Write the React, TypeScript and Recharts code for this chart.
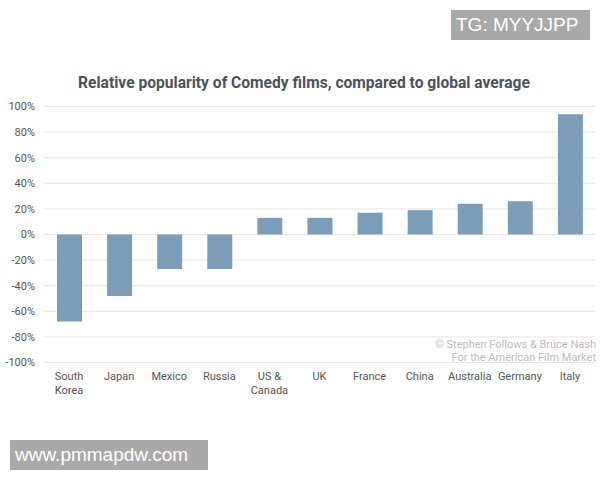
import { BarChart, Bar, XAxis, YAxis, CartesianGrid } from 'recharts'

const countries = ['South\nKorea', 'Japan', 'Mexico', 'Russia', 'US &\nCanada', 'UK', 'France', 'China', 'Australia', 'Germany', 'Italy']
const popularity = [-68, -48, -27, -27, 13, 13, 17, 19, 24, 26, 94]
const yTicks = [-100, -80, -60, -40, -20, 0, 20, 40, 60, 80, 100]

const chartData = countries.map((name, i) => ({ name, value: popularity[i] }))

const FONT = 'Roboto, "Noto Sans", sans-serif'

// multi-line category labels ("South\nKorea")
function CountryTick({ x, y, payload }: any) {
  const lines = String(payload.value).split('\n')
  return (
    <text x={x} y={y} textAnchor="middle" fill="#555" fontSize={11} fontFamily={FONT}>
      {lines.map((l, i) => (
        <tspan key={i} x={x} dy={i === 0 ? 15.5 : 13.5}>{l}</tspan>
      ))}
    </text>
  )
}

const badge = {
  position: 'absolute' as const,
  background: '#a9a9a9',
  color: '#fff',
  fontFamily: '"Liberation Sans", Arial, sans-serif',
  fontSize: 19,
  lineHeight: '30px',
  paddingLeft: 5,
  boxSizing: 'border-box' as const,
  whiteSpace: 'nowrap' as const,
}

export default function App() {
  return (
    <div style={{ position: 'absolute', left: 0, top: 0, width: 600, height: 480, background: '#fff' }}>
      <BarChart
        width={600}
        height={480}
        data={chartData}
        margin={{ top: 106.5, right: 5, bottom: 87.5, left: 0 }}
        barSize={25}
      >
        <CartesianGrid vertical={false} stroke="#e6e6e6" />
        <XAxis
          dataKey="name"
          axisLine={false}
          tickLine={false}
          tickSize={0}
          height={30}
          interval={0}
          tick={<CountryTick />}
        />
        <YAxis
          domain={[-100, 100]}
          ticks={yTicks}
          tickFormatter={v => `${v}%`}
          axisLine={false}
          tickLine={false}
          tickSize={0}
          tickMargin={9}
          width={44}
          tick={{ fill: '#555', fontSize: 11, fontFamily: FONT }}
        />
        <Bar dataKey="value" fill="#7b9db8" isAnimationActive={false} />
        <text x={304} y={88} textAnchor="middle" fill="#4b5358" fontSize={15.6} fontWeight="bold" fontFamily={FONT}>
          Relative popularity of Comedy films, compared to global average
        </text>
        <text x={596} y={348} textAnchor="end" fill="#bdbdbd" fontSize={11} fontFamily={FONT}>
          © Stephen Follows &amp; Bruce Nash
        </text>
        <text x={596} y={361} textAnchor="end" fill="#bdbdbd" fontSize={11} fontFamily={FONT}>
          For the American Film Market
        </text>
      </BarChart>
      <div style={{ ...badge, left: 451, top: 10, width: 139, height: 30 }}>TG: MYYJJPP</div>
      <div style={{ ...badge, left: 10, top: 440, width: 198, height: 30 }}>www.pmmapdw.com</div>
    </div>
  )
}
